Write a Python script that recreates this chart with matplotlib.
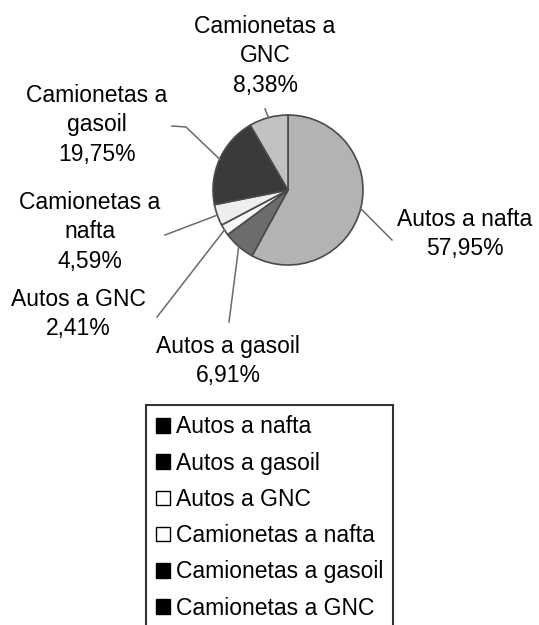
import numpy as np
import matplotlib
matplotlib.use("Agg")
import matplotlib.pyplot as plt
from matplotlib.patches import Patch

# Data
categories = ["Autos a nafta", "Autos a gasoil", "Autos a GNC",
              "Camionetas a nafta", "Camionetas a gasoil", "Camionetas a GNC"]
shares = [57.95, 6.91, 2.41, 4.59, 19.75, 8.38]
label_texts = ["Autos a nafta\n57,95%", "Autos a gasoil\n6,91%", "Autos a GNC\n2,41%",
               "Camionetas a\nnafta\n4,59%", "Camionetas a\ngasoil\n19,75%",
               "Camionetas a\nGNC\n8,38%"]
colors = ["#b3b3b3", "#6c6c6c", "#f6f6f6", "#eeeeee", "#3a3a3a", "#c2c2c2"]

plt.rcParams['font.family'] = ['Liberation Sans', 'DejaVu Sans']

W, H = 539, 625
fig = plt.figure(figsize=(W / 100, H / 100), dpi=100)
ax = fig.add_axes([0, 0, 1, 1])

cx, cy, r = 288, H - 190, 75
wedges, _ = ax.pie(shares, colors=colors, startangle=90, counterclock=False,
                   center=(cx, cy), radius=r, frame=True,
                   wedgeprops=dict(edgecolor='#4a4a4a', linewidth=1.2))
ax.set_xlim(0, W)
ax.set_ylim(0, H)
ax.set_aspect('equal')
ax.axis('off')

# label layout (image pixel coords): text centre, leader end, optional elbow
text_pos = [(465, 234), (228, 361), (78, 314), (90, 232), (97, 125), (265, 56)]
leader_end = [(392, 240), (229, 322), (157, 317), (165, 235), (172, 126), (265, 109)]
elbows = [None, None, None, None, (186, 127), None]

for i, w in enumerate(wedges):
    mid = (w.theta1 + w.theta2) / 2.0
    ex = cx + r * np.cos(np.radians(mid))
    ey = cy + r * np.sin(np.radians(mid))
    pts = [(ex, ey)]
    if elbows[i] is not None:
        pts.append((elbows[i][0], H - elbows[i][1]))
    pts.append((leader_end[i][0], H - leader_end[i][1]))
    xs, ys = zip(*pts)
    ax.plot(xs, ys, color='#6a6a6a', linewidth=1.1)
    tx, ty = text_pos[i]
    ax.text(tx, H - ty, label_texts[i], ha='center', va='center',
            fontsize=16.5, linespacing=1.35, color='black')

handles = []
for c in colors:
    light = int(c[1:3], 16) > 0xe0
    handles.append(Patch(facecolor='white' if light else 'black',
                         edgecolor='black', linewidth=1.0))
leg = fig.legend(handles, categories, loc='upper center',
                 bbox_to_anchor=(269.5 / W, 1 - 405 / H),
                 fontsize=16.5, frameon=True, fancybox=False,
                 handlelength=0.6, handleheight=0.6, handletextpad=0.25,
                 labelspacing=0.58, borderpad=0.45, borderaxespad=0)
leg.get_frame().set_edgecolor('black')
leg.get_frame().set_linewidth(1.5)

fig.savefig("out.png", dpi=100)
